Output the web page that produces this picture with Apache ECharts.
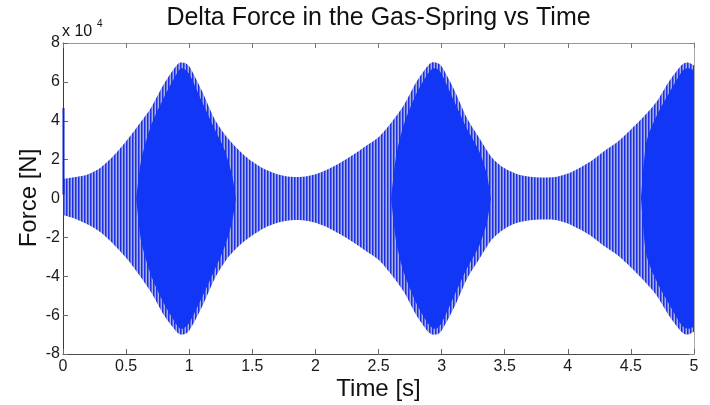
<!DOCTYPE html>
<html>
<head>
<meta charset="utf-8">
<script src="https://cdn.jsdelivr.net/npm/echarts@6/dist/echarts.min.js"></script>
<style>
  html, body { margin: 0; padding: 0; background: #fff; }
  #chart { width: 710px; height: 405px; }
</style>
</head>
<body>
<div id="chart"></div>
<script>
// ---- Data (Force in N, time in s) ----
const envTimes = [0.00,0.10,0.20,0.30,0.40,0.50,0.60,0.70,0.80,0.90,0.94,
  1.00,1.10,1.20,1.30,1.40,1.50,1.60,1.70,1.80,1.90,
  2.00,2.10,2.20,2.30,2.40,2.50,2.60,2.70,2.80,2.90,2.95,
  3.00,3.10,3.20,3.30,3.40,3.50,3.60,3.70,3.80,3.90,
  4.00,4.10,4.20,4.30,4.40,4.50,4.60,4.70,4.80,4.90,4.95,5.00];
// upper envelope of the oscillation (peaks)
const upperEnvelope = [10000,11000,12500,16000,22000,29500,38000,47000,59000,68500,70000,
  68000,55500,41000,31500,24500,19000,15000,12500,11200,11200,
  12500,15000,18500,22500,27000,31500,39000,48000,60000,69000,70000,
  68000,56000,41500,31000,21000,15500,12500,11200,10800,11000,
  12800,16000,20000,25000,29500,35500,42000,49500,60000,68500,70000,68500];
// lower envelope of the oscillation (troughs)
const lowerEnvelope = [-8500,-10500,-13500,-17500,-23500,-30500,-39000,-48500,-60000,-68500,-70000,
  -68000,-56000,-41500,-31000,-24000,-19000,-15000,-12500,-11200,-11200,
  -12500,-15000,-18500,-22500,-27000,-31500,-39000,-48000,-60000,-69000,-70000,
  -68000,-56000,-41500,-31000,-21000,-15500,-12500,-11200,-10800,-11000,
  -12800,-16000,-20000,-25000,-29500,-35500,-42000,-49500,-60000,-68500,-70000,-68500];
// solid (densely filled) core of the trace around each beat maximum
const coreTimes = [0.58,0.62,0.70,0.80,0.90,0.94,1.00,1.10,1.20,1.28,1.34,1.37,
  2.60,2.64,2.70,2.80,2.90,2.95,3.00,3.10,3.20,3.30,3.36,3.39,
  4.58,4.62,4.70,4.80,4.90,4.95,5.00];
const coreUpper = [0,20000,38000,52000,64000,67000,64000,50000,36000,25000,12000,0,
  0,22000,38000,54000,65000,67000,64000,50000,36000,24000,12000,0,
  0,28000,42000,54000,65000,67000,66000];
const coreLower = [0,-22000,-40000,-54000,-65000,-67000,-64000,-51000,-37000,-25000,-12000,0,
  0,-22000,-38000,-54000,-65000,-67000,-64000,-50000,-36000,-24000,-12000,0,
  0,-28000,-42000,-54000,-65000,-67000,-66000];
// initial transient spike at t = 0
const spikeTimes = [0.004, 0.004];
const spikeValues = [2000, 46500];

const xTicks = [0,0.5,1,1.5,2,2.5,3,3.5,4,4.5,5];
const yTicks = [-8,-6,-4,-2,0,2,4,6,8]; // x 10^4

// ---- build ----
const pair = (ts, vs) => ts.map((t, i) => [t, vs[i]]);
const rows = (ts, hi, lo) => ts.map((t, i) => [t, hi[i], lo[i]]);

const BLUE = '#1236f6';
const stripe = document.createElement('canvas');
stripe.width = 3; stripe.height = 1;
(function () {
  const c = stripe.getContext('2d');
  c.fillStyle = '#1e30e4'; c.fillRect(0, 0, 1, 1);
  c.fillStyle = '#5b6ce6'; c.fillRect(1, 0, 1, 1);
  c.fillStyle = '#a6aee2'; c.fillRect(2, 0, 1, 1);
})();
const stripePattern = { image: stripe, repeat: 'repeat' };

// smooth path (Catmull-Rom -> cubic Bezier) through pixel points
function curveThrough(pts, start) {
  let d = (start ? 'M' : 'L') + pts[0][0] + ' ' + pts[0][1];
  for (let i = 0; i < pts.length - 1; i++) {
    const p0 = pts[Math.max(0, i - 1)], p1 = pts[i], p2 = pts[i + 1], p3 = pts[Math.min(pts.length - 1, i + 2)];
    const k = 0.8 / 6;
    const c1 = [p1[0] + (p2[0] - p0[0]) * k, p1[1] + (p2[1] - p0[1]) * k];
    const c2 = [p2[0] - (p3[0] - p1[0]) * k, p2[1] - (p3[1] - p1[1]) * k];
    d += 'C' + c1[0] + ' ' + c1[1] + ' ' + c2[0] + ' ' + c2[1] + ' ' + p2[0] + ' ' + p2[1];
  }
  return d;
}
// split rows into segments separated by large time gaps
function segments(data) {
  const out = []; let cur = [];
  data.forEach((r, i) => {
    if (i > 0 && r[0] - data[i - 1][0] > 0.5) { out.push(cur); cur = []; }
    cur.push(r);
  });
  if (cur.length) out.push(cur);
  return out;
}
function bandSeries(data, fill, z) {
  return {
    type: 'custom', data, z, silent: true, animation: false,
    encode: { x: 0, y: [1, 2] },
    renderItem: function (params, api) {
      if (params.dataIndex !== 0) return null;
      const children = segments(data).map(seg => {
        const top = seg.map(r => api.coord([r[0], r[1]]));
        const bot = seg.map(r => api.coord([r[0], r[2]])).reverse();
        const d = curveThrough(top, true) + curveThrough(bot, false) + 'Z';
        return { type: 'path', shape: { pathData: d }, style: { fill: fill, stroke: null } };
      });
      return { type: 'group', children };
    }
  };
}

const chart = echarts.init(document.getElementById('chart'), null, { renderer: 'canvas' });
const FONT = '"Liberation Sans", Arial, Helvetica, sans-serif';

chart.setOption({
  animation: false,
  grid: { left: 63, right: 16, top: 43, bottom: 51, show: false },
  xAxis: [{
    type: 'value', min: 0, max: 5, interval: 0.5, position: 'bottom',
    axisLine: { show: true, onZero: false, lineStyle: { color: '#4a4a4a', width: 1 } },
    axisTick: { show: true, inside: true, length: 5, lineStyle: { color: '#666' } },
    axisLabel: { color: '#1a1a1a', fontSize: 16, fontFamily: FONT, margin: 5,
      formatter: v => (xTicks.indexOf(v) >= 0 ? String(v) : '') },
    splitLine: { show: false }
  }, {
    type: 'value', min: 0, max: 5, interval: 0.5, position: 'top',
    axisLine: { show: true, onZero: false, lineStyle: { color: '#999', width: 1 } },
    axisTick: { show: true, inside: true, length: 5, lineStyle: { color: '#777' } },
    axisLabel: { show: false }, splitLine: { show: false }
  }],
  yAxis: [{
    type: 'value', min: -80000, max: 80000, interval: 20000, position: 'left',
    axisLine: { show: true, onZero: false, lineStyle: { color: '#3a3a3a', width: 1 } },
    axisTick: { show: true, inside: true, length: 5, lineStyle: { color: '#666' } },
    axisLabel: { color: '#1a1a1a', fontSize: 16, fontFamily: FONT, margin: 3,
      formatter: v => { const k = Math.round(v / 10000); return yTicks.indexOf(k) >= 0 ? String(k) : ''; } },
    splitLine: { show: false }
  }, {
    type: 'value', min: -80000, max: 80000, interval: 20000, position: 'right',
    axisLine: { show: true, onZero: false, lineStyle: { color: '#aaa', width: 1 } },
    axisTick: { show: true, inside: true, length: 5, lineStyle: { color: '#888' } },
    axisLabel: { show: false }, splitLine: { show: false }
  }],
  graphic: [
    { type: 'text', x: 378.5, y: 18, silent: true,
      style: { text: 'Delta Force in the Gas-Spring vs Time', font: '25px ' + FONT,
        fill: '#111', textAlign: 'center', textVerticalAlign: 'middle' } },
    { type: 'text', x: 378.5, y: 389, silent: true,
      style: { text: 'Time [s]', font: '24px ' + FONT, fill: '#111',
        textAlign: 'center', textVerticalAlign: 'middle' } },
    { type: 'text', x: 29, y: 198, rotation: Math.PI / 2, silent: true,
      style: { text: 'Force [N]', font: '24px ' + FONT, fill: '#111',
        textAlign: 'center', textVerticalAlign: 'middle' } },
    { type: 'text', x: 62, y: 32, silent: true,
      style: { text: 'x 10', font: '16px ' + FONT, fill: '#111',
        textAlign: 'left', textVerticalAlign: 'middle' } },
    { type: 'text', x: 97, y: 24, silent: true,
      style: { text: '4', font: '10px ' + FONT, fill: '#111',
        textAlign: 'left', textVerticalAlign: 'middle' } }
  ],
  series: [
    bandSeries(rows(envTimes, upperEnvelope, lowerEnvelope), stripePattern, 2),
    bandSeries(rows(coreTimes, coreUpper, coreLower), BLUE, 3),
    {
      type: 'line', data: pair(spikeTimes, spikeValues), symbol: 'none', z: 4,
      lineStyle: { color: '#0b1fd8', width: 2 }, silent: true, animation: false
    }
  ]
});
</script>
</body>
</html>
